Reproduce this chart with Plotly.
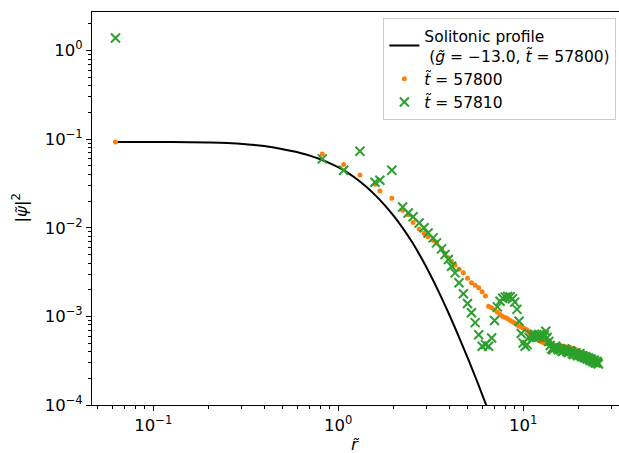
import plotly.graph_objects as go

# ---- data ----
profile_r = [0.0625, 0.126, 0.1995, 0.251, 0.316, 0.398, 0.501, 0.562, 0.631, 0.708, 0.794, 0.891,
             1.0, 1.122, 1.259, 1.413, 1.585, 1.778, 1.995, 2.239, 2.512, 2.818, 3.162, 3.548,
             3.981, 4.467, 5.012, 5.623, 6.31, 7.08]
profile_rho = [0.0930, 0.0928, 0.0918, 0.0906, 0.0879, 0.0836, 0.0771, 0.0736, 0.0695, 0.0649,
               0.0597, 0.0541, 0.0483, 0.0420, 0.0356, 0.0292, 0.02336, 0.01813, 0.01360, 0.00985,
               0.00686, 0.00455, 0.00289, 0.00177, 0.00105, 0.000604, 0.000340, 0.000187,
               0.000100, 0.0000526]

r_bins = [0.0625, 0.82, 1.07, 1.31, 1.58, 1.68, 1.95, 2.23, 2.39, 2.54, 2.74, 2.91, 3.06, 3.26, 3.40,
          3.62, 3.78, 3.94, 4.10, 4.28,
          4.5, 4.75, 5.0, 5.25, 5.5, 5.75, 6.0, 6.25, 6.5, 6.75, 7.0, 7.25, 7.5, 7.75,
          8.0, 8.25, 8.5, 8.75, 9.0, 9.25, 9.5, 9.75, 10.0, 10.25, 10.5, 10.75,
          11.0, 11.25, 11.5, 11.75, 12.0, 12.25, 12.5, 12.75, 13.0, 13.25, 13.5, 13.75,
          14.0, 14.25, 14.5, 14.75, 15.0, 15.25, 15.5, 15.75, 16.0, 16.25, 16.5, 16.75,
          17.0, 17.25, 17.5, 17.75, 18.0, 18.25, 18.5, 18.75, 19.0, 19.25, 19.5, 19.75,
          20.0, 20.25, 20.5, 20.75, 21.0, 21.25, 21.5, 21.75, 22.0, 22.25, 22.5, 22.75,
          23.0, 23.25, 23.5, 23.75, 24.0, 24.25, 24.5, 24.75, 25.0, 25.25, 25.5]

rho_57800 = [0.093, 0.0682, 0.0517, 0.0395, 0.031, 0.026, 0.0215, 0.0158, 0.0140, 0.0115, 0.0097,
             0.0087, 0.0079, 0.0072, 0.0068, 0.0058, 0.0051, 0.0046, 0.0042, 0.0038,
             0.0034, 0.0031, 0.0027, 0.0024, 0.00225, 0.0021, 0.0019, 0.0017, 0.0013, 0.00125,
             0.00118, 0.00112, 0.00105, 0.0010,
             0.00097, 0.00094, 0.0009, 0.00087, 0.00084, 0.00081, 0.00078, 0.00076, 0.00074,
             0.00072, 0.0007, 0.00066,
             0.00062, 0.00059, 0.00057, 0.00055, 0.00054, 0.00053, 0.00052, 0.00051, 0.0005,
             0.0005, 0.00049, 0.00049,
             0.00048, 0.00048, 0.00048, 0.00047, 0.00047, 0.00047, 0.00047, 0.00046, 0.00046,
             0.00046, 0.00046, 0.00046,
             0.00045, 0.00045, 0.00045, 0.00044, 0.00044, 0.00044, 0.00043, 0.00043, 0.00042,
             0.00042, 0.00041, 0.00041,
             0.0004, 0.0004, 0.00039, 0.00039, 0.00038, 0.00038, 0.00037, 0.00037, 0.00036,
             0.00036, 0.00035, 0.00035,
             0.00035, 0.00034, 0.00034, 0.00033, 0.00033, 0.00033, 0.00032, 0.00032, 0.00032,
             0.00031, 0.00031]

rho_57810 = [1.39, 0.060, 0.0446, 0.073, 0.0326, 0.0344, 0.0446, 0.0172, 0.0147, 0.0133, 0.01135,
             0.0100, 0.00875, 0.00769, 0.00676, 0.00578, 0.00499, 0.00438, 0.00368, 0.0031,
             0.0024, 0.0018, 0.0014, 0.0011, 0.00085, 0.00062, 0.00046, 0.00048, 0.00046, 0.00057,
             0.0009, 0.00128, 0.00148, 0.0016,
             0.00165, 0.00168, 0.00166, 0.00158, 0.00145, 0.0012, 0.00088, 0.00064, 0.0005,
             0.00046, 0.00048, 0.00058,
             0.00062, 0.0006, 0.00063, 0.00061, 0.00058, 0.00062, 0.0006, 0.00057, 0.00062,
             0.00068, 0.00058, 0.00052,
             0.00047, 0.00043, 0.00042, 0.00045, 0.00046, 0.00044, 0.00042, 0.00043, 0.00042,
             0.0004, 0.00041, 0.00043,
             0.00042, 0.0004, 0.00039, 0.0004, 0.00041, 0.0004, 0.00038, 0.00037, 0.00038,
             0.00039, 0.00037, 0.00036,
             0.00037, 0.00038, 0.00036, 0.00035, 0.00036, 0.00035, 0.00034, 0.00035, 0.00034,
             0.00033, 0.00034, 0.00033,
             0.00032, 0.00033, 0.00032, 0.00031, 0.00031, 0.00032, 0.0003, 0.0003, 0.00031,
             0.0003, 0.00029]

x_tickvals = [0.1, 1, 10]
x_ticktext = ["10<sup>\u22121</sup>", "10<sup>0</sup>", "10<sup>1</sup>"]
y_tickvals = [1e-4, 1e-3, 1e-2, 1e-1, 1]
y_ticktext = ["10<sup>\u22124</sup>", "10<sup>\u22123</sup>", "10<sup>\u22122</sup>",
              "10<sup>\u22121</sup>", "10<sup>0</sup>"]

FONT = "DejaVu Sans"

fig = go.Figure()
fig.add_trace(go.Scatter(
    x=profile_r, y=profile_rho, mode="lines",
    line=dict(color="black", width=2, shape="spline", smoothing=1),
    name="Solitonic profile<br> (<i>g\u0303</i> = \u221213.0, <i>t\u0303</i> = 57800)",
))
fig.add_trace(go.Scatter(
    x=r_bins, y=rho_57800, mode="markers",
    marker=dict(color="#ff7f0e", size=5, symbol="circle", line=dict(width=0)),
    name="<i>t\u0303</i> = 57800",
))
fig.add_trace(go.Scatter(
    x=r_bins, y=rho_57810, mode="markers",
    marker=dict(color="#2ca02c", size=9, symbol="x-thin", line=dict(width=2, color="#2ca02c")),
    name="<i>t\u0303</i> = 57810",
))

axis_common = dict(
    type="log", showgrid=False, zeroline=False, showline=True, linecolor="black", linewidth=1,
    ticks="outside", ticklen=5, tickwidth=1, tickcolor="black", automargin=False,
    tickfont=dict(family=FONT, size=16.5, color="black"),
    minor=dict(ticks="outside", ticklen=3, tickwidth=0.8, tickcolor="black", dtick="D1", showgrid=False),
)

fig.update_xaxes(**axis_common, range=[-1.331, 1.518], mirror=True,
                 tickmode="array", tickvals=x_tickvals, ticktext=x_ticktext)
fig.update_yaxes(**axis_common, range=[-4, 0.4357],
                 tickmode="array", tickvals=y_tickvals, ticktext=y_ticktext)

fig.add_annotation(text="<i>r\u0303</i>", xref="paper", yref="paper",
                   x=(355 - 92) / 527, y=-(444 - 405) / 393, xanchor="center", yanchor="middle",
                   showarrow=False, font=dict(family=FONT, size=16.5, color="black"))
fig.add_annotation(text="|<i>\u03c8\u0303</i>|<sup>2</sup>", xref="paper", yref="paper",
                   x=(20 - 92) / 527, y=0.5, xanchor="center", yanchor="middle", textangle=-90,
                   showarrow=False, font=dict(family=FONT, size=16.5, color="black"))

fig.update_layout(
    width=619, height=453,
    margin=dict(l=92, r=0, t=12, b=48),
    paper_bgcolor="white", plot_bgcolor="white",
    font=dict(family=FONT, color="black"),
    showlegend=True,
    legend=dict(x=0.995, xanchor="right", y=0.985, yanchor="top",
                bgcolor="rgba(255,255,255,0.8)", bordercolor="#cccccc", borderwidth=1,
                font=dict(family=FONT, size=15.5, color="black"),
                itemwidth=30, tracegroupgap=2),
)

fig.write_html("out.html", config={"displayModeBar": False},
               post_script="document.body.style.margin='0';")
